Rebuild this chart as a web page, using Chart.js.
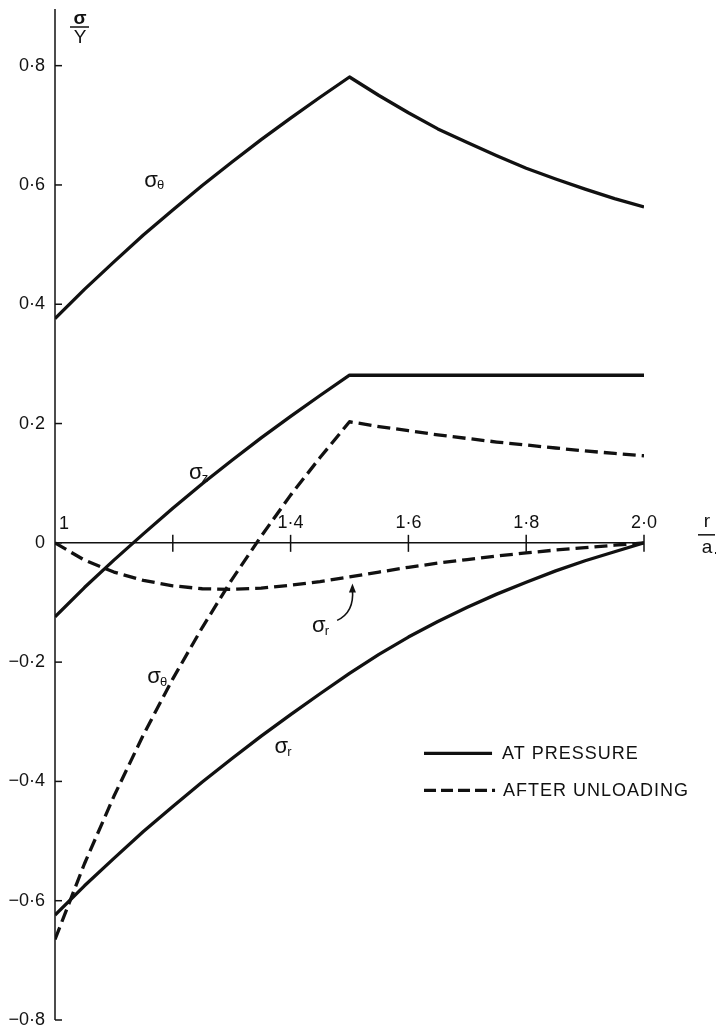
<!DOCTYPE html>
<html>
<head>
<meta charset="utf-8">
<script src="https://cdn.jsdelivr.net/npm/chart.js"></script>
<style>
  body { margin: 0; background: #fff; }
  #wrap { width: 716px; height: 1031px; position: relative; }
</style>
</head>
<body>
<div id="wrap"><canvas id="stress-chart"></canvas></div>
<script>
// r/a positions where the curves were read
const rValues = [1.00, 1.05, 1.10, 1.15, 1.20, 1.25, 1.30, 1.35, 1.40, 1.45, 1.50,
                 1.55, 1.60, 1.65, 1.70, 1.75, 1.80, 1.85, 1.90, 1.95, 2.00];

// at pressure (solid)
const thetaAtPressure = [0.376, 0.425, 0.471, 0.516, 0.558, 0.599, 0.638, 0.676, 0.712, 0.747, 0.781,
                         0.750, 0.721, 0.694, 0.671, 0.649, 0.628, 0.610, 0.593, 0.577, 0.563];
const axialAtPressure = [-0.124, -0.075, -0.029, 0.015, 0.058, 0.099, 0.138, 0.176, 0.212, 0.247, 0.281,
                         0.281, 0.281, 0.281, 0.281, 0.281, 0.281, 0.281, 0.281, 0.281, 0.281];
const radialAtPressure = [-0.624, -0.575, -0.529, -0.484, -0.442, -0.401, -0.362, -0.324, -0.288, -0.253, -0.219,
                          -0.187, -0.158, -0.132, -0.108, -0.086, -0.066, -0.047, -0.030, -0.015, 0.000];

// after unloading (dashed)
const thetaUnloaded = [-0.665, -0.538, -0.425, -0.322, -0.228, -0.142, -0.062, 0.011, 0.080, 0.143, 0.203,
                       0.195, 0.188, 0.181, 0.175, 0.169, 0.164, 0.159, 0.154, 0.150, 0.146];
const radialUnloaded = [0.000, -0.029, -0.049, -0.063, -0.072, -0.077, -0.078, -0.076, -0.071, -0.065, -0.057,
                        -0.049, -0.041, -0.034, -0.028, -0.022, -0.017, -0.012, -0.008, -0.004, 0.000];

// axis ticks
const xTicks = [1.2, 1.4, 1.6, 1.8, 2.0];
const xTickLabels = ['', '1·4', '1·6', '1·8', '2·0'];
const yTicks = [0.8, 0.6, 0.4, 0.2, 0, -0.2, -0.4, -0.6, -0.8];
const yTickLabels = ['0·8', '0·6', '0·4', '0·2', '0', '−0·2', '−0·4', '−0·6', '−0·8'];

const FONT = '"Liberation Sans", Arial, sans-serif';

function toPoints(values) {
    return rValues.map((r, i) => ({x: r, y: values[i]}));
}

function curve(label, values, dashed) {
    return {
        label: label,
        data: toPoints(values),
        borderColor: '#111',
        borderWidth: 3.3,
        borderDash: dashed ? [13, 6] : [],
        borderCapStyle: 'butt',
        borderJoinStyle: 'round',
        pointRadius: 0,
        tension: 0,
        fill: false
    };
}

function drawSigma(ctx, px, py, sub) {
    ctx.font = '22px ' + FONT;
    ctx.textAlign = 'center';
    ctx.textBaseline = 'middle';
    ctx.fillText('σ', px, py);
    ctx.font = '13px ' + FONT;
    ctx.textAlign = 'left';
    ctx.fillText(sub, px + 6, py + 5);
}

function line(ctx, x1, y1, x2, y2) {
    ctx.beginPath();
    ctx.moveTo(x1, y1);
    ctx.lineTo(x2, y2);
    ctx.stroke();
}

const axesPlugin = {
    id: 'stressAxes',
    beforeDatasetsDraw(chart) {
        const {ctx, scales: {x, y}} = chart;
        const x0 = x.getPixelForValue(1);
        const y0 = y.getPixelForValue(0);
        ctx.save();
        ctx.strokeStyle = '#111';
        ctx.fillStyle = '#111';
        ctx.lineWidth = 1.5;

        // vertical axis with inward ticks
        line(ctx, x0, y.top, x0, y.getPixelForValue(-0.8));
        yTicks.forEach(v => {
            const py = y.getPixelForValue(v);
            line(ctx, x0, py, x0 + 7, py);
        });

        // horizontal axis at zero
        line(ctx, x0, y0, x.getPixelForValue(2.0), y0);
        xTicks.forEach(v => {
            const px = x.getPixelForValue(v);
            line(ctx, px, y0 - 8, px, y0 + 9);
        });

        // tick labels
        ctx.font = '18px ' + FONT;
        ctx.textAlign = 'right';
        ctx.textBaseline = 'middle';
        yTicks.forEach((v, i) => {
            ctx.fillText(yTickLabels[i], x0 - 10, y.getPixelForValue(v));
        });
        ctx.textAlign = 'center';
        xTicks.forEach((v, i) => {
            ctx.fillText(xTickLabels[i], x.getPixelForValue(v), y0 - 20);
        });
        ctx.fillText('1', x0 + 9, y0 - 19);

        // axis titles as fractions
        ctx.font = 'bold 19px ' + FONT;
        ctx.fillText('σ', x0 + 25, y.top + 10);
        line(ctx, x0 + 15, y.top + 18, x0 + 34, y.top + 18);
        ctx.font = '19px ' + FONT;
        ctx.fillText('Y', x0 + 25, y.top + 29);

        const xr = x.getPixelForValue(2.0) + 63;
        ctx.fillText('r', xr, y0 - 21);
        line(ctx, xr - 9, y0 - 8, xr + 8, y0 - 8);
        ctx.fillText('a', xr, y0 + 5);
        ctx.fillText('.', xr + 9, y0 + 6);
        ctx.restore();
    },
    afterDraw(chart) {
        const {ctx, scales: {x, y}} = chart;
        ctx.save();
        ctx.fillStyle = '#111';
        ctx.strokeStyle = '#111';

        // curve labels
        drawSigma(ctx, x.getPixelForValue(1.163), y.getPixelForValue(0.607), 'θ');
        drawSigma(ctx, x.getPixelForValue(1.239), y.getPixelForValue(0.117), 'z');
        drawSigma(ctx, x.getPixelForValue(1.168), y.getPixelForValue(-0.225), 'θ');
        drawSigma(ctx, x.getPixelForValue(1.384), y.getPixelForValue(-0.343), 'r');
        drawSigma(ctx, x.getPixelForValue(1.448), y.getPixelForValue(-0.140), 'r');

        // pointer from dashed sigma_r label to its curve
        const ax = x.getPixelForValue(1.479), ay = y.getPixelForValue(-0.130);
        const tx = x.getPixelForValue(1.505), ty = y.getPixelForValue(-0.068);
        ctx.lineWidth = 1.6;
        ctx.beginPath();
        ctx.moveTo(ax, ay);
        ctx.quadraticCurveTo(tx + 2, ay - 8, tx, ty + 6);
        ctx.stroke();
        ctx.beginPath();
        ctx.moveTo(tx, ty);
        ctx.lineTo(tx - 3.5, ty + 9);
        ctx.lineTo(tx + 3.5, ty + 9);
        ctx.closePath();
        ctx.fill();

        // legend
        const lx1 = x.getPixelForValue(1.6265), lx2 = x.getPixelForValue(1.742);
        const ly1 = y.getPixelForValue(-0.353), ly2 = y.getPixelForValue(-0.415);
        ctx.lineWidth = 3.3;
        line(ctx, lx1, ly1, lx2, ly1);
        ctx.setLineDash([12, 5]);
        line(ctx, lx1, ly2, lx2 + 3, ly2);
        ctx.setLineDash([]);
        ctx.font = '18px ' + FONT;
        ctx.textAlign = 'left';
        ctx.textBaseline = 'middle';
        if ('letterSpacing' in ctx) ctx.letterSpacing = '1px';
        ctx.fillText('AT PRESSURE', lx2 + 10, ly1 + 1);
        ctx.fillText('AFTER UNLOADING', lx2 + 11, ly2 + 1);
        ctx.restore();
    }
};

function generateStressChart() {
    new Chart(document.getElementById('stress-chart'), {
        type: 'line',
        data: {
            datasets: [
                curve('σθ at pressure', thetaAtPressure, false),
                curve('σz at pressure', axialAtPressure, false),
                curve('σr at pressure', radialAtPressure, false),
                curve('σθ after unloading', thetaUnloaded, true),
                curve('σr after unloading', radialUnloaded, true)
            ]
        },
        options: {
            responsive: true,
            maintainAspectRatio: false,
            animation: false,
            layout: {padding: {left: 55, right: 72, top: 9, bottom: 11}},
            plugins: {legend: {display: false}, tooltip: {enabled: false}},
            scales: {
                x: {type: 'linear', min: 1, max: 2, display: false},
                y: {type: 'linear', min: -0.8, max: 0.895, display: false}
            }
        },
        plugins: [axesPlugin]
    });
}

generateStressChart();
</script>
</body>
</html>
